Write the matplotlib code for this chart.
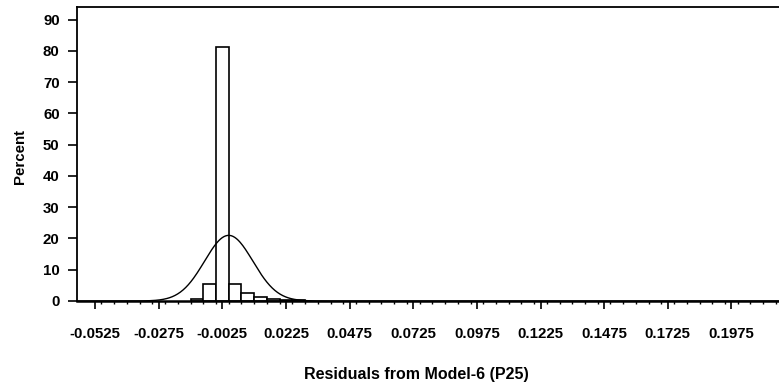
import numpy as np
import matplotlib
matplotlib.use('Agg')
from matplotlib import pyplot as plt

plt.rcParams['font.family'] = 'Liberation Sans'
plt.rcParams['font.weight'] = 'bold'

# histogram of residuals: bin midpoints (width 0.005) and percent per bin
bin_width = 0.005
midpoints = [-0.0125, -0.0075, -0.0025, 0.0025, 0.0075, 0.0125, 0.0175, 0.0225, 0.0275]
percent = [0.5, 5.5, 81.2, 5.5, 2.4, 1.3, 0.7, 0.4, 0.3]

# fitted normal curve parameters
mu = 0.0
sigma = 0.0095

major_ticks = [-0.0525, -0.0275, -0.0025, 0.0225, 0.0475, 0.0725,
               0.0975, 0.1225, 0.1475, 0.1725, 0.1975]
tick_labels = ['-0.0525', '-0.0275', '-0.0025', '0.0225', '0.0475', '0.0725',
               '0.0975', '0.1225', '0.1475', '0.1725', '0.1975']
y_ticks = [0, 10, 20, 30, 40, 50, 60, 70, 80, 90]

fig = plt.figure(figsize=(7.79, 3.86), dpi=100)
ax = fig.add_axes([77 / 779, 85 / 386, 702 / 779, 294.5 / 386])

ax.bar(midpoints, percent, width=bin_width, color='white', edgecolor='black',
       linewidth=1.2, zorder=2)

xs = np.linspace(-0.06, 0.22, 800)
curve = 100 * bin_width / (sigma * np.sqrt(2 * np.pi)) * np.exp(-0.5 * ((xs - mu) / sigma) ** 2)
ax.plot(xs, curve, color='black', linewidth=1.0, zorder=3)

ax.set_xlim(-0.0596, 0.2162)
ax.set_ylim(0, 94.2)

ax.set_xticks(major_ticks)
ax.set_xticklabels(tick_labels)
minor = np.arange(-0.05, 0.2151, 0.005)
ax.set_xticks(minor, minor=True)
ax.set_yticks(y_ticks)

ax.tick_params(axis='x', which='major', length=6, width=1.2, pad=12.5, labelsize=10.8)
ax.tick_params(axis='x', which='minor', length=2, width=1.0)
ax.tick_params(axis='y', length=6.5, width=1.2, pad=6, labelsize=10.8)

ax.spines['right'].set_visible(False)
for side in ['left', 'top']:
    ax.spines[side].set_linewidth(1.3)
ax.spines['bottom'].set_linewidth(1.8)

fig.text(416 / 779, 11 / 386, 'Residuals from Model-6 (P25)', ha='center', va='center',
         fontsize=11.5, fontweight='bold')
fig.text(20 / 779, 229 / 386, 'Percent', ha='center', va='center', rotation=90,
         fontsize=10.8, fontweight='bold')

fig.savefig('out.png', dpi=100)
